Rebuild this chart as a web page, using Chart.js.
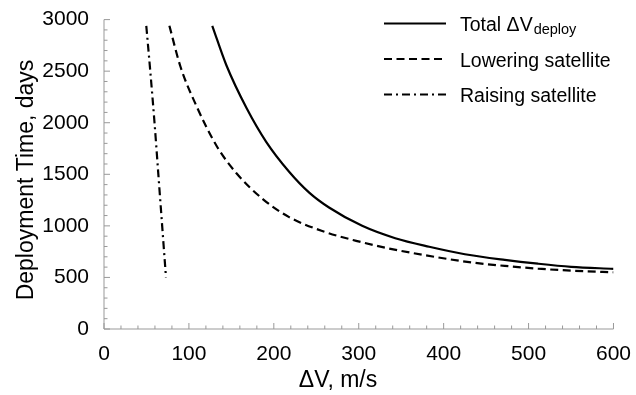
<!DOCTYPE html>
<html>
<head>
<meta charset="utf-8">
<script src="https://cdn.jsdelivr.net/npm/chart.js@4"></script>
<style>
  body { margin: 0; background: #fff; }
  #wrap { width: 636px; height: 395px; }
</style>
</head>
<body>
<div id="wrap"><canvas id="chart" width="636" height="395"></canvas></div>
<script>
/* ── data ── */
const totalDv   = [127.5, 144, 168, 191, 218, 242, 265, 304, 343, 383, 425, 472, 511, 550, 600];
const totalDays = [2940, 2560, 2140, 1815, 1525, 1320, 1178, 1000, 880, 797, 725, 670, 633, 603, 583];

const lowerDv   = [77, 90, 109, 133, 156, 187, 218, 257, 297, 336, 375, 433, 472, 511, 550, 600];
const lowerDays = [2940, 2545, 2160, 1770, 1510, 1260, 1085, 950, 855, 780, 720, 645, 612, 585, 566, 550];

const raiseDv   = [49.8, 54.5, 59.5, 64, 68.5, 73];
const raiseDays = [2940, 2500, 2000, 1500, 1000, 500];

const xTicks = [0, 100, 200, 300, 400, 500, 600];
const yTicks = [0, 500, 1000, 1500, 2000, 2500, 3000];

const FONT = "'Liberation Sans', Arial, sans-serif";
const AXIS = '#999';

const pts = (xs, ys) => xs.map((v, i) => ({ x: v, y: ys[i] }));

/* ── inward major/minor ticks + axis lines ── */
const axesPlugin = {
  id: 'axes',
  beforeDatasetsDraw(chart) {
    const { ctx, chartArea: a, scales: { x, y } } = chart;
    ctx.save();
    ctx.strokeStyle = AXIS;
    ctx.lineWidth = 1;
    ctx.beginPath();
    ctx.moveTo(a.left, a.top);
    ctx.lineTo(a.left, a.bottom);
    ctx.lineTo(a.right, a.bottom);
    for (let v = 0; v <= 600; v += 20) {
      const px = x.getPixelForValue(v);
      const len = v % 100 === 0 ? 6 : 3.5;
      ctx.moveTo(px, a.bottom);
      ctx.lineTo(px, a.bottom - len);
    }
    for (let v = 0; v <= 3000; v += 100) {
      const py = y.getPixelForValue(v);
      const len = v % 500 === 0 ? 6 : 3.5;
      ctx.moveTo(a.left, py);
      ctx.lineTo(a.left + len, py);
    }
    ctx.stroke();

    // axis titles (placed like the original, a bit off-centre)
    ctx.fillStyle = '#000';
    ctx.font = `23px ${FONT}`;
    ctx.textAlign = 'center';
    ctx.textBaseline = 'alphabetic';
    ctx.fillText('ΔV, m/s', 338, 386.5);
    ctx.translate(33, 180);
    ctx.rotate(-Math.PI / 2);
    ctx.fillText('Deployment Time, days', 0, 0);
    ctx.restore();
  }
};

/* ── legend with subscript ── */
const legendPlugin = {
  id: 'subLegend',
  afterDraw(chart) {
    const { ctx } = chart;
    ctx.save();
    chart.data.datasets.forEach((ds, i) => {
      const yy = 23.5 + i * 35.5;
      ctx.strokeStyle = '#000';
      ctx.lineWidth = 2.2;
      ctx.setLineDash(ds.borderDash || []);
      ctx.beginPath();
      ctx.moveTo(384, yy);
      ctx.lineTo(446, yy);
      ctx.stroke();
      ctx.setLineDash([]);
      ctx.fillStyle = '#000';
      ctx.textBaseline = 'alphabetic';
      ctx.font = `19.5px ${FONT}`;
      ctx.fillText(ds.label, 460, yy + 7.5);
      if (ds.sub) {
        const w = ctx.measureText(ds.label).width;
        ctx.font = `14.5px ${FONT}`;
        ctx.fillText(ds.sub, 460 + w + 1, yy + 10);
      }
    });
    ctx.restore();
  }
};

const lineStyle = { borderColor: '#000', borderWidth: 2.2, pointRadius: 0, fill: false,
                    cubicInterpolationMode: 'monotone' };

new Chart(document.getElementById('chart'), {
  type: 'line',
  data: {
    datasets: [
      { ...lineStyle, label: 'Total ΔV', sub: 'deploy', data: pts(totalDv, totalDays) },
      { ...lineStyle, label: 'Lowering satellite', borderDash: [8, 4.5], data: pts(lowerDv, lowerDays) },
      { ...lineStyle, label: 'Raising satellite', borderDash: [8, 4, 2, 4], data: pts(raiseDv, raiseDays) },
    ]
  },
  options: {
    responsive: false,
    animation: false,
    layout: { padding: { top: 13, right: 20, left: 0, bottom: 0 } },
    plugins: { legend: { display: false }, tooltip: { enabled: false } },
    scales: {
      x: {
        type: 'linear', min: 0, max: 600,
        afterBuildTicks: s => { s.ticks = xTicks.map(v => ({ value: v })); },
        afterFit: s => { s.height = 66; },
        grid: { display: false }, border: { display: false },
        ticks: { color: '#000', padding: 5, maxRotation: 0, callback: v => String(v),
                 font: { family: FONT, size: 21 } }
      },
      y: {
        type: 'linear', min: 0, max: 3000,
        afterBuildTicks: s => { s.ticks = yTicks.map(v => ({ value: v })); },
        afterFit: s => { s.width = 104; },
        grid: { display: false }, border: { display: false },
        ticks: { color: '#000', padding: 7, callback: v => String(v),
                 font: { family: FONT, size: 21 } }
      }
    }
  },
  plugins: [axesPlugin, legendPlugin]
});
</script>
</body>
</html>
